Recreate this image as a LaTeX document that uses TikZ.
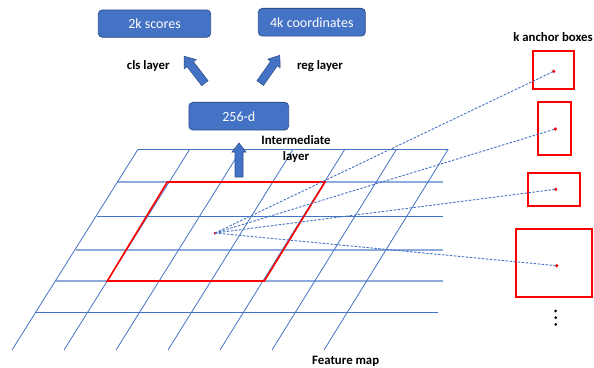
\documentclass[tikz,border=0pt]{standalone}
\usepackage{fontspec}
\setmainfont{Carlito}
\usetikzlibrary{arrows.meta}
\definecolor{accent}{HTML}{4472C4}
\definecolor{accentdark}{HTML}{2F528F}
\definecolor{gridlight}{HTML}{8FAADC}
\definecolor{boxred}{HTML}{FF0000}
\begin{document}
\begin{tikzpicture}[x=1pt,y=-1pt,
  block/.style={draw=accentdark, line width=0.8pt, fill=accent, rounded corners=4pt,
    text=white, font=\fontsize{14}{16}\selectfont, inner sep=0pt},
  lbl/.style={font=\bfseries\fontsize{12.8}{16}\selectfont, inner sep=0pt, align=center},
  gridthin/.style={draw=accent, line width=0.8pt},
  gridthick/.style={draw=gridlight, line width=1.6pt},
  anchorbox/.style={draw=boxred, line width=1.7pt},
  reddot/.style={circle, fill=boxred, inner sep=0pt, minimum size=3.6pt},
  blackdot/.style={circle, fill=black, inner sep=0pt, minimum size=3pt},
  link/.style={draw=accent, line width=0.9pt, dash pattern=on 2.5pt off 1.5pt},
  blockarrow/.pic={\draw[draw=accentdark, fill=accent, line width=0.6pt]
    (-17,-4) -- (7,-4) -- (7,-7.5) -- (17,0) -- (7,7.5) -- (7,4) -- (-17,4) -- cycle;},
  slimarrow/.pic={\draw[draw=accentdark, fill=accent, line width=0.6pt]
    (-17,-4) -- (8,-4) -- (8,-7) -- (17,0) -- (8,7) -- (8,4) -- (-17,4) -- cycle;}]
\useasboundingbox (0,0) rectangle (594,367);

% feature map grid
\draw[gridthin]  (138,149.3) -- (448,149.3);
\draw[gridthick] (117,182) -- (443,182);
\draw[gridthin]  (96.5,216.3) -- (443,216.3);
\draw[gridthick] (75.5,249.7) -- (443,249.7);
\draw[gridthick] (56,280.7) -- (443,280.7);
\draw[gridthin]  (36,312.3) -- (438,312.3);
\foreach \i in {0,...,6}{
  \draw[gridthin] ({138+51.7*\i},149.3) -- ({12+52*\i},350);
}

% sliding window
\draw[draw=boxred, line width=1.6pt] (167.3,182) -- (325,182) -- (264.3,281) -- (107.3,281) -- cycle;

% anchor boxes
\draw[anchorbox] (532.7,51) rectangle (574.3,89);
\draw[anchorbox] (538,102.3) rectangle (571.3,154.7);
\draw[anchorbox] (528.3,172.7) rectangle (580.3,206);
\draw[anchorbox] (516.3,229) rectangle (592,296.7);

\node[reddot, minimum size=3pt] (c) at (215,233) {};
\node[reddot] (a1) at (553.7,71.3) {};
\node[reddot] (a2) at (555.3,129) {};
\node[reddot] (a3) at (555.7,189.3) {};
\node[reddot] (a4) at (556.7,265.7) {};

\draw[link] (c.center) -- (a1.center);
\draw[link] (c.center) -- (a2.center);
\draw[link] (c.center) -- (a3.center);
\draw[link] (c.center) -- (a4.center);

\node[blackdot] (v1) at (555.7,311) {};
\node[blackdot] (v2) at (555.7,317.7) {};
\node[blackdot] (v3) at (555.7,324.3) {};

% network head
\node[block, minimum width=112.4pt, minimum height=27.3pt] (scores) at (154.5,23.6) {2k scores};
\node[block, minimum width=107pt, minimum height=27.7pt] (coords) at (311.8,22.2) {4k coordinates};
\node[block, minimum width=99.7pt, minimum height=27.7pt] (mid) at (238.8,116.2) {256-d};

\pic[rotate=127.6] at (194.5,69.7) {blockarrow};
\pic[rotate=54.8] at (270,69.2) {blockarrow};
\pic[rotate=90] at (239,160) {slimarrow};

\node[lbl] (cls) at (148.3,66) {cls layer};
\node[lbl] (reg) at (320,66) {reg layer};
\node[lbl] (inter) at (296,148.7) {Intermediate\\layer};
\node[lbl] (kab) at (553,36.7) {k anchor boxes};
\node[lbl] (fmap) at (345.7,361) {Feature map};
\end{tikzpicture}
\end{document}
